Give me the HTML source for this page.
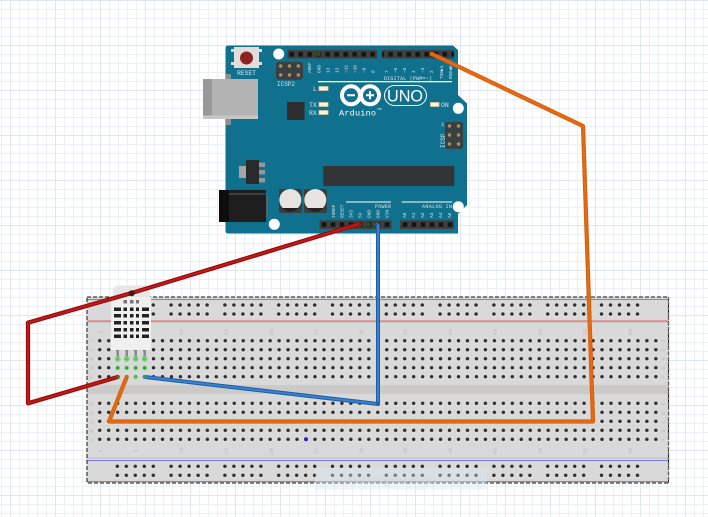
<!DOCTYPE html>
<html><head><meta charset="utf-8"><style>html,body{margin:0;padding:0;background:#fff;width:708px;height:517px;overflow:hidden}svg{display:block}
.a{font:5px "Liberation Mono",monospace;fill:#d6e4ea}
.b{font:5.5px "Liberation Mono",monospace;fill:#bbb}
</style></head><body>
<svg width="708" height="517" viewBox="0 0 708 517" xmlns="http://www.w3.org/2000/svg">
<defs>
<pattern id="g" width="9" height="9" patternUnits="userSpaceOnUse" x="1" y="0"><path d="M.5 0V9M0 .5H9" stroke="#ebf0f5" stroke-width="1" fill="none"/></pattern>
<pattern id="G" width="45" height="45" patternUnits="userSpaceOnUse" x="10" y="0"><path d="M.5 0V45M0 .5H45" stroke="#e0e8ef" stroke-width="1" fill="none"/></pattern>
<pattern id="h" width="8.97" height="9" patternUnits="userSpaceOnUse" x="95.2" y="336.2"><circle cx="4.5" cy="4.8" r="2.5" fill="#ececec"/><circle cx="4.5" cy="4.5" r="1.8" fill="#2e2e2e"/></pattern>
<pattern id="h2" width="8.97" height="9" patternUnits="userSpaceOnUse" x="95.2" y="398.8"><circle cx="4.5" cy="4.8" r="2.5" fill="#ececec"/><circle cx="4.5" cy="4.5" r="1.8" fill="#2e2e2e"/></pattern>
<pattern id="r" width="53.8" height="9" patternUnits="userSpaceOnUse" x="112.8" y="300.5"><circle cx="4.5" cy="4.8" r="2.5" fill="#ececec"/><circle cx="4.5" cy="4.5" r="1.8" fill="#2e2e2e"/><circle cx="13.5" cy="4.8" r="2.5" fill="#ececec"/><circle cx="13.5" cy="4.5" r="1.8" fill="#2e2e2e"/><circle cx="22.5" cy="4.8" r="2.5" fill="#ececec"/><circle cx="22.5" cy="4.5" r="1.8" fill="#2e2e2e"/><circle cx="31.5" cy="4.8" r="2.5" fill="#ececec"/><circle cx="31.5" cy="4.5" r="1.8" fill="#2e2e2e"/><circle cx="40.5" cy="4.8" r="2.5" fill="#ececec"/><circle cx="40.5" cy="4.5" r="1.8" fill="#2e2e2e"/></pattern>
<pattern id="r2" width="53.8" height="9" patternUnits="userSpaceOnUse" x="112.8" y="461.8"><circle cx="4.5" cy="4.8" r="2.5" fill="#ececec"/><circle cx="4.5" cy="4.5" r="1.8" fill="#2e2e2e"/><circle cx="13.5" cy="4.8" r="2.5" fill="#ececec"/><circle cx="13.5" cy="4.5" r="1.8" fill="#2e2e2e"/><circle cx="22.5" cy="4.8" r="2.5" fill="#ececec"/><circle cx="22.5" cy="4.5" r="1.8" fill="#2e2e2e"/><circle cx="31.5" cy="4.8" r="2.5" fill="#ececec"/><circle cx="31.5" cy="4.5" r="1.8" fill="#2e2e2e"/><circle cx="40.5" cy="4.8" r="2.5" fill="#ececec"/><circle cx="40.5" cy="4.5" r="1.8" fill="#2e2e2e"/></pattern>
<pattern id="p" width="9" height="9" patternUnits="userSpaceOnUse" x="287.2" y="50"><rect x="2.2" y="2" width="4.6" height="4.6" fill="#151515"/></pattern>
<pattern id="p2" width="9" height="9" patternUnits="userSpaceOnUse" x="319.5" y="220.3"><rect x="2.2" y="2" width="4.6" height="4.6" fill="#151515"/></pattern>
</defs>
<rect width="708" height="517" fill="#fff"/>
<rect width="708" height="517" fill="url(#g)"/>
<rect width="708" height="517" fill="url(#G)"/>

<!-- breadboard -->
<rect x="86.500" y="296.500" width="582.500" height="186.500" fill="#d9d9d9"/>
<rect x="87" y="385" width="582" height="9" fill="#cccac8"/>
<rect x="87" y="299" width="582" height="1" fill="#7b7bf0"/>
<rect x="87" y="320.500" width="582" height="1" fill="#f06060"/>
<rect x="87" y="321.500" width="582" height="1" fill="#bdbdbd"/>
<rect x="87" y="457.500" width="582" height="1" fill="#bdbdbd"/>
<rect x="87" y="460" width="582" height="1" fill="#7b7bf0"/>
<rect x="87" y="481" width="582" height="1" fill="#f06060"/>
<rect x="95.200" y="336.200" width="565" height="45" fill="url(#h)"/>
<rect x="95.200" y="398.800" width="565" height="45" fill="url(#h2)"/>
<rect x="112.800" y="300.500" width="538" height="18" fill="url(#r)"/>
<rect x="112.800" y="461.800" width="538" height="18" fill="url(#r2)"/>
<rect x="87" y="297" width="581.500" height="186" fill="none" stroke="#111" stroke-width="1" stroke-dasharray="4 2"/>
<path d="M668.500 297V483" stroke="#666" stroke-width="1.400" stroke-dasharray="3 2" fill="none"/>
<circle cx="306" cy="439.300" r="2" fill="#2222cc"/>
<rect x="315" y="468" width="172" height="22" fill="#dde8f2" opacity=".4"/>
<text x="348" y="484" font-family="Liberation Sans, sans-serif" font-size="11" fill="#c8d0d8" opacity=".5">Rectangular Ship</text>

<!-- board labels -->
<g class="b" text-anchor="middle">
<text transform="translate(102,332) rotate(-90)">1</text><text transform="translate(138,332) rotate(-90)">5</text><text transform="translate(183,332) rotate(-90)">10</text><text transform="translate(228,332) rotate(-90)">15</text><text transform="translate(273,332) rotate(-90)">20</text><text transform="translate(318,332) rotate(-90)">25</text><text transform="translate(363,332) rotate(-90)">30</text><text transform="translate(407,332) rotate(-90)">35</text><text transform="translate(452,332) rotate(-90)">40</text><text transform="translate(497,332) rotate(-90)">45</text><text transform="translate(542,332) rotate(-90)">50</text><text transform="translate(587,332) rotate(-90)">55</text><text transform="translate(632,332) rotate(-90)">60</text>
<text transform="translate(102,451) rotate(-90)">1</text><text transform="translate(138,451) rotate(-90)">5</text><text transform="translate(183,451) rotate(-90)">10</text><text transform="translate(228,451) rotate(-90)">15</text><text transform="translate(273,451) rotate(-90)">20</text><text transform="translate(318,451) rotate(-90)">25</text><text transform="translate(363,451) rotate(-90)">30</text><text transform="translate(407,451) rotate(-90)">35</text><text transform="translate(452,451) rotate(-90)">40</text><text transform="translate(497,451) rotate(-90)">45</text><text transform="translate(542,451) rotate(-90)">50</text><text transform="translate(587,451) rotate(-90)">55</text><text transform="translate(632,451) rotate(-90)">60</text>
<text transform="translate(93,341) rotate(-90)">J</text><text transform="translate(93,350) rotate(-90)">I</text><text transform="translate(93,359) rotate(-90)">H</text><text transform="translate(93,368) rotate(-90)">G</text><text transform="translate(93,377) rotate(-90)">F</text>
<text transform="translate(93,404) rotate(-90)">E</text><text transform="translate(93,413) rotate(-90)">D</text><text transform="translate(93,422) rotate(-90)">C</text><text transform="translate(93,431) rotate(-90)">B</text><text transform="translate(93,440) rotate(-90)">A</text>
<text transform="translate(665,341) rotate(-90)">J</text><text transform="translate(665,350) rotate(-90)">I</text><text transform="translate(665,359) rotate(-90)">H</text><text transform="translate(665,368) rotate(-90)">G</text><text transform="translate(665,377) rotate(-90)">F</text>
<text transform="translate(665,404) rotate(-90)">E</text><text transform="translate(665,413) rotate(-90)">D</text><text transform="translate(665,422) rotate(-90)">C</text><text transform="translate(665,431) rotate(-90)">B</text><text transform="translate(665,440) rotate(-90)">A</text>
</g>

<!-- Arduino -->
<path d="M228 45.500H453L458 50V95L467 103.500V205L458 214V233.500H228Q225.500 233.500 225.500 231V48Q225.500 45.500 228 45.500Z" fill="#10718f"/>
<circle cx="278.700" cy="54" r="5.500" fill="#fff"/><circle cx="458.300" cy="108.300" r="5.500" fill="#fff"/><circle cx="458.300" cy="206.700" r="5.500" fill="#fff"/><circle cx="274.300" cy="224.300" r="5.500" fill="#fff"/>
<!-- reset -->
<rect x="231" y="49" width="4" height="3" fill="#ddd"/><rect x="231" y="62" width="4" height="3" fill="#ddd"/><rect x="258" y="49" width="4" height="3" fill="#ddd"/><rect x="258" y="62" width="4" height="3" fill="#ddd"/>
<rect x="234" y="47" width="25" height="21" fill="#e0dedc"/><circle cx="246.500" cy="58" r="6.500" fill="#8e2222"/>
<!-- usb -->
<rect x="226" y="74" width="5" height="6" fill="#8a8f92"/><rect x="226" y="119" width="5" height="6" fill="#8a8f92"/>
<rect x="203" y="79" width="55" height="40" fill="#b3b3b3"/><rect x="203" y="79" width="9" height="40" fill="#999"/><rect x="203" y="115.500" width="55" height="3.500" fill="#c6c6c6"/>
<!-- ICSP2 -->
<rect x="276" y="61.700" width="27" height="18" rx="3" fill="#3a3f42"/>
<g fill="#a8935f"><circle cx="280.700" cy="66" r="1.700"/><circle cx="289.500" cy="66" r="1.700"/><circle cx="298.300" cy="66" r="1.700"/><circle cx="280.700" cy="75" r="1.700"/><circle cx="289.500" cy="75" r="1.700"/><circle cx="298.300" cy="75" r="1.700"/></g>
<!-- ICSP -->
<rect x="445" y="122" width="18" height="27" rx="2.500" fill="#3a3f42"/>
<g fill="#a8935f"><circle cx="449.500" cy="126" r="1.700"/><circle cx="458.500" cy="126" r="1.700"/><circle cx="449.500" cy="135" r="1.700"/><circle cx="458.500" cy="135" r="1.700"/><circle cx="449.500" cy="144" r="1.700"/><circle cx="458.500" cy="144" r="1.700"/></g>
<!-- chips -->
<rect x="287" y="102" width="17.500" height="18" fill="#2d2d2d"/>
<rect x="323.300" y="166" width="131" height="20" fill="#333436"/>
<!-- regulator -->
<rect x="239" y="166" width="8" height="12" fill="#a5a5a5"/><rect x="259" y="162.500" width="6" height="4.500" fill="#8d9aa0"/><rect x="259" y="170" width="6" height="4.500" fill="#8d9aa0"/><rect x="259" y="178" width="6" height="4.500" fill="#8d9aa0"/>
<rect x="246" y="160" width="13" height="24" fill="#2a2a2a"/>
<!-- jack -->
<rect x="266" y="195" width="2" height="22" fill="#5a6468"/>
<rect x="219" y="190" width="47" height="32" fill="#1e1e1e"/><rect x="219" y="190" width="10" height="32" fill="#0d0d0d"/><rect x="229" y="193" width="37" height="2" fill="#3c3c3c"/>
<!-- caps -->
<rect x="279" y="189" width="23" height="24" rx="2" fill="#3c3c3c"/><rect x="304" y="189" width="23" height="24" rx="2" fill="#3c3c3c"/>
<circle cx="290.300" cy="200" r="11" fill="#e6e3e0"/><circle cx="315.300" cy="200" r="11" fill="#e6e3e0"/>
<path d="M282 208A11 11 0 0 0 298.500 208Z" fill="#222"/><path d="M307 208A11 11 0 0 0 323.500 208Z" fill="#222"/>
<!-- headers -->
<rect x="287.300" y="50" width="89.700" height="8.500" fill="#3f3f3f"/><rect x="382" y="50" width="72" height="8.500" fill="#3f3f3f"/>
<rect x="287.200" y="50" width="89.700" height="8.500" fill="url(#p)"/><rect x="382" y="50" width="72" height="8.500" fill="url(#p)"/>
<rect x="319.500" y="220.300" width="72" height="8.700" fill="#3f3f3f"/><rect x="400" y="220.300" width="54" height="8.700" fill="#3f3f3f"/>
<rect x="319.500" y="220.300" width="72" height="8.700" fill="url(#p2)"/><rect x="400" y="220.300" width="54" height="8.700" fill="url(#p2)"/>
<circle cx="318.500" cy="54" r="2" fill="#1f5a20"/><circle cx="368.500" cy="224.500" r="2" fill="#1f5a20"/><circle cx="359.500" cy="224.500" r="2" fill="#6a7a20"/><circle cx="377.500" cy="224.500" r="2" fill="#2a9a80"/><circle cx="431.500" cy="54" r="2" fill="#6a9a20"/>
<!-- white lines -->
<rect x="318" y="81" width="134" height="1.300" fill="#fff"/><rect x="346" y="201.500" width="45" height="1" fill="#fff"/><rect x="401.700" y="201.500" width="50.500" height="1" fill="#fff"/>
<!-- LEDs -->
<g fill="#fbf3dc" stroke="#d9c79a" stroke-width=".8"><rect x="319" y="86.500" width="9" height="4"/><rect x="319" y="102.500" width="9" height="4"/><rect x="319" y="110.500" width="9" height="4"/><rect x="430.500" y="102.500" width="8.500" height="4"/></g>
<!-- logo -->
<g fill="none" stroke="#fff"><circle cx="351" cy="95.300" r="9" stroke-width="4"/><circle cx="370" cy="95.300" r="9" stroke-width="4"/><rect x="384.500" y="85.500" width="42" height="20" rx="10" stroke-width="1"/></g>
<path d="M347 95.300h8M366 95.300h8M370 91.300v8" stroke="#fff" stroke-width="2" fill="none"/>
<text x="387" y="101.500" font-family="Liberation Sans, sans-serif" font-size="17" fill="#fff" textLength="36" lengthAdjust="spacingAndGlyphs">UNO</text>
<text x="339" y="115.500" font-family="Liberation Mono, monospace" font-size="8.500" fill="#fff" textLength="37">Arduino</text>
<text x="377" y="110" font-family="Liberation Sans, sans-serif" font-size="3" fill="#fff">TM</text>
<!-- arduino labels -->
<g class="a">
<text x="237" y="75" style="font-size:6.500px" textLength="19">RESET</text>
<text x="277" y="86" style="font-size:6px" textLength="18">ICSP2</text>
<text x="384" y="80" textLength="48">DIGITAL (PWM=~)</text>
<text x="313" y="91" style="font-size:6.500px">L</text><text x="309" y="107" style="font-size:6.500px">TX</text><text x="309" y="115" style="font-size:6.500px">RX</text><text x="441" y="107" style="font-size:6.500px">ON</text>
<text x="441" y="126" style="font-size:5.500px">1</text>
<text transform="translate(445,148) rotate(-90)" style="font-size:6px">ICSP</text>
<text x="375" y="208" textLength="16">POWER</text><text x="422" y="208" textLength="30">ANALOG IN</text>
<g style="font-size:4.500px">
<text transform="translate(311,73) rotate(-90)">AREF</text><text transform="translate(320.500,73) rotate(-90)">GND</text><text transform="translate(329.500,73) rotate(-90)">13</text><text transform="translate(338.500,73) rotate(-90)">12</text><text transform="translate(347.500,73) rotate(-90)">~11</text><text transform="translate(356.500,73) rotate(-90)">~10</text><text transform="translate(365.500,73) rotate(-90)">~9</text><text transform="translate(374.500,73) rotate(-90)">8</text>
<text transform="translate(388,73) rotate(-90)">7</text><text transform="translate(397,73) rotate(-90)">~6</text><text transform="translate(406,73) rotate(-90)">~5</text><text transform="translate(415,73) rotate(-90)">4</text><text transform="translate(424,73) rotate(-90)">~3</text><text transform="translate(433,73) rotate(-90)">2</text><text transform="translate(443,79) rotate(-90)">TX0▶1</text><text transform="translate(452,79) rotate(-90)">RX0◀0</text>
<text transform="translate(335,218) rotate(-90)">IOREF</text><text transform="translate(343.500,218) rotate(-90)">RESET</text><text transform="translate(352.500,218) rotate(-90)">3V3</text><text transform="translate(361.500,218) rotate(-90)">5V</text><text transform="translate(370.500,218) rotate(-90)">GND</text><text transform="translate(379.500,218) rotate(-90)">GND</text><text transform="translate(388.500,218) rotate(-90)">VIN</text>
<text transform="translate(406,218) rotate(-90)">A0</text><text transform="translate(415,218) rotate(-90)">A1</text><text transform="translate(424,218) rotate(-90)">A2</text><text transform="translate(433,218) rotate(-90)">A3</text><text transform="translate(442,218) rotate(-90)">A4</text><text transform="translate(451,218) rotate(-90)">A5</text>
</g></g>

<!-- sensor -->
<path d="M113 297V292Q113 285.500 120 285.500H143Q150 285.500 150 292V297Z" fill="#e6e6e6"/>
<rect x="111" y="297" width="40" height="53" fill="#f0f0f0"/>
<g fill="#8a8a8a"><rect x="116.500" y="350" width="2.500" height="9"/><rect x="125.500" y="350" width="2.500" height="9"/><rect x="134.500" y="350" width="2.500" height="9"/><rect x="143.500" y="350" width="2.500" height="9"/></g>
<g fill="#777"><rect x="123.500" y="300" width="3.500" height="3.500"/><rect x="130" y="300" width="3.500" height="3.500"/><rect x="136" y="300" width="3" height="3.500"/></g>
<g fill="#222">
<rect x="114" y="307.500" width="7" height="3.500"/><rect x="123.500" y="307.500" width="3.500" height="3.500"/><rect x="130" y="307.500" width="3.500" height="3.500"/><rect x="136" y="307.500" width="3" height="3.500"/><rect x="142" y="307.500" width="7" height="3.500"/>
<rect x="114" y="314" width="7" height="3.500"/><rect x="123.500" y="314" width="3.500" height="3.500"/><rect x="130" y="314" width="3.500" height="3.500"/><rect x="136" y="314" width="3" height="3.500"/><rect x="142" y="314" width="7" height="3.500"/>
<rect x="114" y="321" width="7" height="3.500"/><rect x="123.500" y="321" width="3.500" height="3.500"/><rect x="130" y="321" width="3.500" height="3.500"/><rect x="136" y="321" width="3" height="3.500"/><rect x="142" y="321" width="7" height="3.500"/>
<rect x="114" y="328" width="7" height="3.500"/><rect x="123.500" y="328" width="3.500" height="3.500"/><rect x="130" y="328" width="3.500" height="3.500"/><rect x="136" y="328" width="3" height="3.500"/><rect x="142" y="328" width="7" height="3.500"/>
<rect x="114" y="334.500" width="7" height="3.500"/><rect x="123.500" y="334.500" width="3.500" height="3.500"/><rect x="130" y="334.500" width="3.500" height="3.500"/><rect x="136" y="334.500" width="3" height="3.500"/><rect x="142" y="334.500" width="7" height="3.500"/>
</g>
<g fill="#6fd66f" opacity=".8"><circle cx="117.700" cy="359" r="3"/><circle cx="126.700" cy="359" r="3"/><circle cx="135.700" cy="359" r="3"/><circle cx="144.700" cy="359" r="3"/><circle cx="117.700" cy="368" r="2.500"/><circle cx="126.700" cy="368" r="2.500"/><circle cx="135.700" cy="368" r="2.500"/><circle cx="144.700" cy="368" r="2.500"/><circle cx="135.700" cy="377" r="2.500"/></g>
<g fill="#2a9a2a"><circle cx="117.700" cy="368" r="1.300"/><circle cx="126.700" cy="368" r="1.300"/><circle cx="135.700" cy="368" r="1.300"/><circle cx="144.700" cy="368" r="1.300"/></g>

<!-- wires -->
<g fill="none" stroke-linejoin="round" stroke-linecap="round">
<path d="M378 225V404L145 377" stroke="#1d5fa6" stroke-width="4"/><path d="M378 225V404L145 377" stroke="#3a84d2" stroke-width="1.800"/>
<path d="M432 54L583 126L593 421.500H109L126.700 377" stroke="#d65f0e" stroke-width="4.200"/><path d="M432 54L583 126L593 421.500H109L126.700 377" stroke="#e56a10" stroke-width="2.200"/>
<path d="M359 224L131.700 293L28 322.700V403.300L117.700 377" stroke="#8f0d0d" stroke-width="4.200"/><path d="M359 224L131.700 293L28 322.700V403.300L117.700 377" stroke="#c81616" stroke-width="2"/>
</g>
<circle cx="131.700" cy="293.300" r="3" fill="#3a1a1a"/>
<circle cx="144.700" cy="377" r="2" fill="#1aa080"/><circle cx="378" cy="404" r="1.800" fill="#1d5fa6"/>
<circle cx="117.700" cy="377" r="1.800" fill="#7a5a10"/><circle cx="126.700" cy="377" r="1.800" fill="#a08020"/>
</svg>
</body></html>
